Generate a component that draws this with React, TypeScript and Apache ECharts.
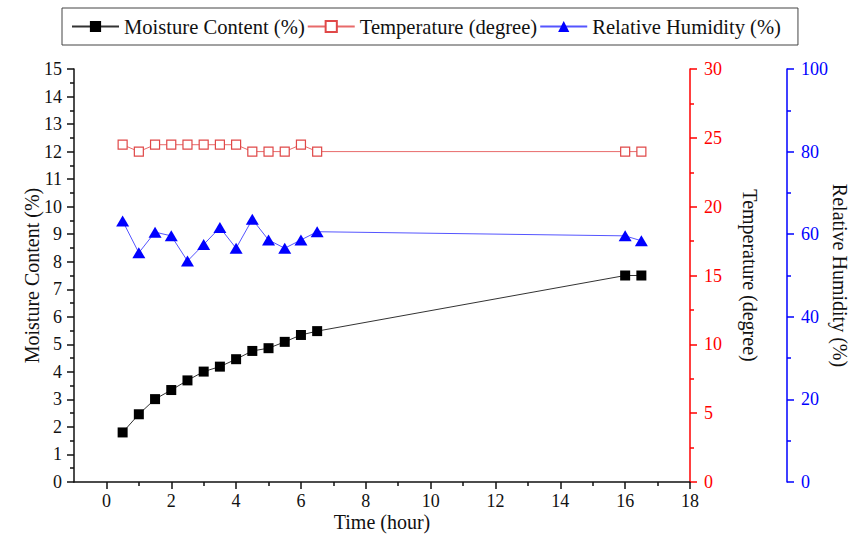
import React, { useEffect, useRef } from "react";
import * as echarts from "echarts";

const times = [0.5, 1, 1.5, 2, 2.5, 3, 3.5, 4, 4.5, 5, 5.5, 6, 6.5, 16, 16.5];
const moisture = [1.8, 2.46, 3.01, 3.34, 3.69, 4.01, 4.19, 4.46, 4.76, 4.86, 5.09, 5.34, 5.48, 7.5, 7.5];
const temperature = [24.5, 24, 24.5, 24.5, 24.5, 24.5, 24.5, 24.5, 24, 24, 24, 24.5, 24, 24, 24];
const humidity = [63.2, 55.5, 60.5, 59.6, 53.5, 57.5, 61.6, 56.6, 63.6, 58.6, 56.6, 58.6, 60.6, 59.6, 58.4];
const xMajorTicks = [0, 2, 4, 6, 8, 10, 12, 14, 16, 18];
const xMinorTicks = [1, 3, 5, 7, 9, 11, 13, 15, 17];

const FONT = "Liberation Serif";

export default function App() {
  const ref = useRef<HTMLDivElement>(null);
  useEffect(() => {
    if (!ref.current) return;
    const chart = echarts.init(ref.current, undefined, { renderer: "svg" });
    const pairs = (vals: number[]) => times.map((t, i) => [t, vals[i]]);
    const labelStyle = { fontFamily: FONT, fontSize: 18 };
    const nameStyle = { fontFamily: FONT, fontSize: 20, color: "#111" };
    chart.setOption({
      animation: false,
      backgroundColor: "#fff",
      textStyle: { fontFamily: FONT },
      legend: {
        left: 62,
        top: 8,
        padding: [8, 17, 8, 9],
        borderColor: "#444",
        borderWidth: 1,
        itemGap: 2,
        itemWidth: 47,
        itemHeight: 14,
        textStyle: { fontFamily: FONT, fontSize: 20.6, color: "#111" },
        data: ["Moisture Content (%)", "Temperature (degree)", "Relative Humidity (%)"],
      },
      grid: { left: 74, right: 163, top: 69, bottom: 58, containLabel: false, outerBoundsMode: "none" },
      xAxis: [
        {
          type: "value",
          min: -1,
          max: 18,
          name: "Time (hour)",
          nameLocation: "middle",
          nameGap: 30,
          nameMoveOverlap: false,
          nameTextStyle: nameStyle,
          axisLine: { show: true, onZero: false, lineStyle: { color: "#111", width: 1.5 } },
          axisTick: { show: true, length: 7, customValues: xMajorTicks, lineStyle: { color: "#111", width: 1.5 } },
          axisLabel: { ...labelStyle, color: "#111", margin: 10, customValues: xMajorTicks },
          splitLine: { show: false },
        },
        {
          type: "value",
          min: -1,
          max: 18,
          position: "bottom",
          axisLine: { show: false, onZero: false },
          axisTick: { show: true, length: 4, customValues: xMinorTicks, lineStyle: { color: "#111", width: 1.5 } },
          axisLabel: { show: false },
          splitLine: { show: false },
        },
      ],
      yAxis: [
        {
          type: "value",
          min: 0,
          max: 15,
          interval: 1,
          position: "left",
          name: "Moisture Content (%)",
          nameLocation: "middle",
          nameRotate: 90,
          nameGap: 32,
          nameMoveOverlap: false,
          nameTextStyle: nameStyle,
          axisLine: { show: true, onZero: false, lineStyle: { color: "#111", width: 1.5 } },
          axisTick: { show: true, length: 7, lineStyle: { color: "#111", width: 1.5 } },
          minorTick: { show: true, splitNumber: 2, length: 4, lineStyle: { color: "#111", width: 1.5 } },
          axisLabel: { ...labelStyle, color: "#111", margin: 12 },
          splitLine: { show: false },
        },
        {
          type: "value",
          min: 0,
          max: 30,
          interval: 5,
          position: "right",
          name: "Temperature (degree)",
          nameLocation: "middle",
          nameRotate: -90,
          nameGap: 50,
          nameMoveOverlap: false,
          nameTextStyle: nameStyle,
          axisLine: { show: true, onZero: false, lineStyle: { color: "#ff0000", width: 1.5 } },
          axisTick: { show: true, length: 7, lineStyle: { color: "#ff0000", width: 1.5 } },
          minorTick: { show: true, splitNumber: 2, length: 4, lineStyle: { color: "#ff0000", width: 1.5 } },
          axisLabel: { ...labelStyle, color: "#ff0000", margin: 14 },
          splitLine: { show: false },
        },
        {
          type: "value",
          min: 0,
          max: 100,
          interval: 20,
          position: "right",
          offset: 97,
          name: "Relative Humidity (%)",
          nameLocation: "middle",
          nameRotate: -90,
          nameGap: 43,
          nameMoveOverlap: false,
          nameTextStyle: nameStyle,
          axisLine: { show: true, onZero: false, lineStyle: { color: "#0000ff", width: 1.5 } },
          axisTick: { show: true, length: 7, lineStyle: { color: "#0000ff", width: 1.5 } },
          minorTick: { show: true, splitNumber: 2, length: 4, lineStyle: { color: "#0000ff", width: 1.5 } },
          axisLabel: { ...labelStyle, color: "#0000ff", margin: 14 },
          splitLine: { show: false },
        },
      ],
      series: [
        {
          name: "Moisture Content (%)",
          type: "line",
          xAxisIndex: 0,
          yAxisIndex: 0,
          data: pairs(moisture),
          symbol: "rect",
          symbolSize: 10,
          lineStyle: { color: "#333", width: 1 },
          itemStyle: { color: "#000", borderColor: "#000", borderWidth: 0 },
          z: 3,
        },
        {
          name: "Temperature (degree)",
          type: "line",
          xAxisIndex: 0,
          yAxisIndex: 1,
          data: pairs(temperature),
          symbol: "rect",
          symbolSize: 9,
          lineStyle: { color: "#e86a6a", width: 1 },
          itemStyle: { color: "#fff", borderColor: "#e04848", borderWidth: 1.2 },
          z: 2,
        },
        {
          name: "Relative Humidity (%)",
          type: "line",
          xAxisIndex: 0,
          yAxisIndex: 2,
          data: pairs(humidity),
          symbol: "triangle",
          symbolSize: [13, 11],
          lineStyle: { color: "#5555ff", width: 1 },
          itemStyle: { color: "#0000ff", borderWidth: 0 },
          z: 2,
        },
      ],
    });
    return () => chart.dispose();
  }, []);
  return <div ref={ref} style={{ width: 853, height: 540, position: "absolute", left: 0, top: 0 }} />;
}
